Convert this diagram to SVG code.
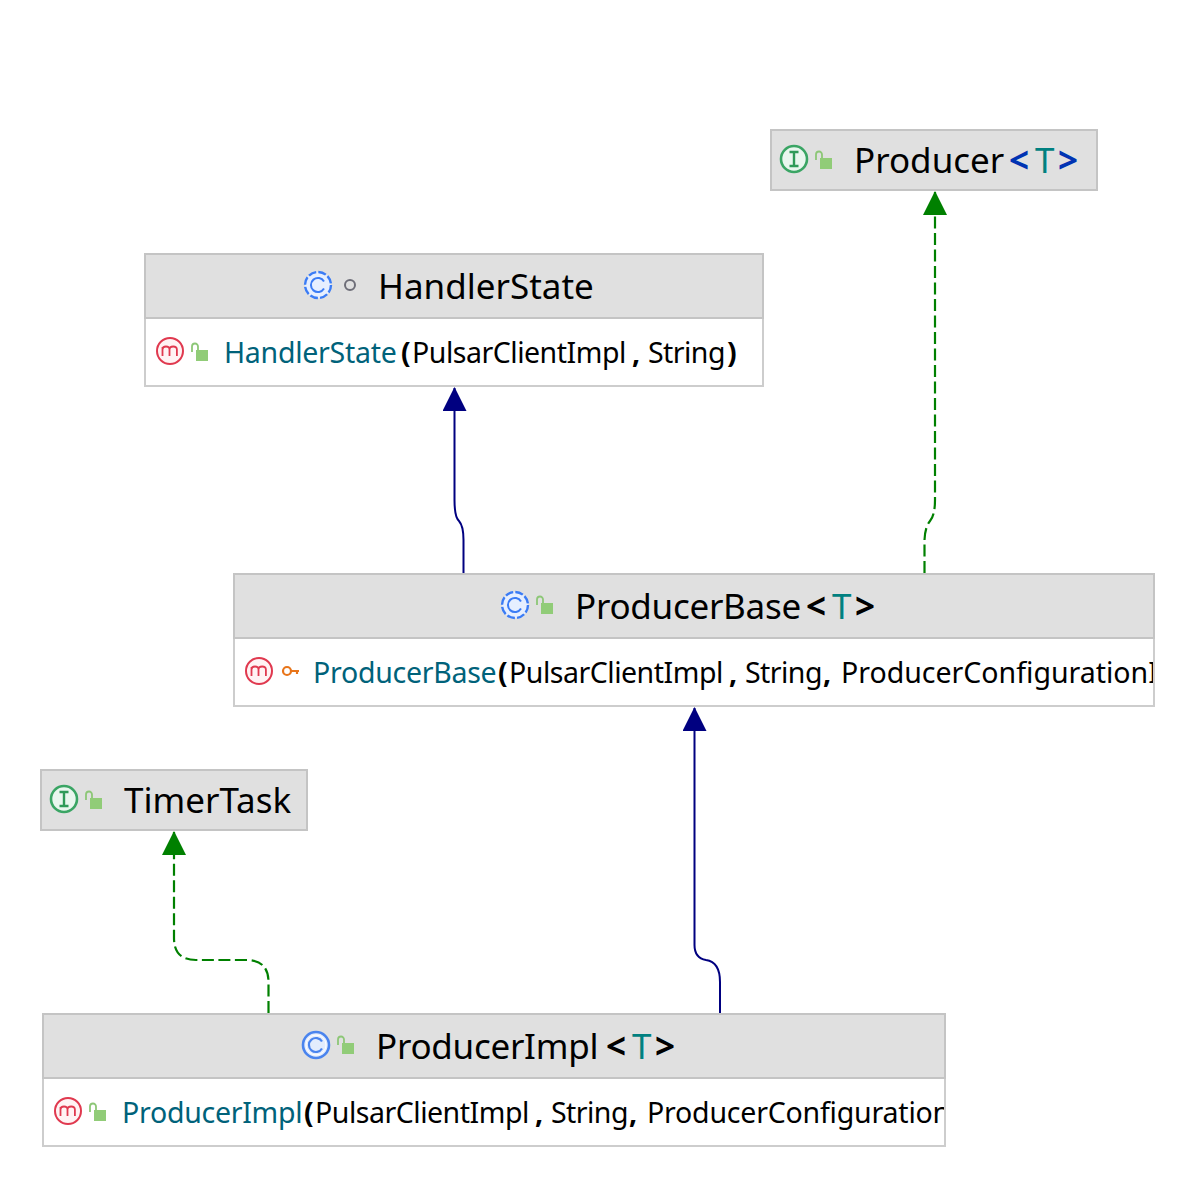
<svg xmlns="http://www.w3.org/2000/svg" width="1196" height="1188" viewBox="0 0 1196 1188">
<style>
text{font-family:"Noto Sans","Open Sans","Liberation Sans",sans-serif;white-space:pre}
.t{font-size:35px;fill:#000}
.b{font-size:28.500px;fill:#000}
.n{fill:#00627a}
.k{fill:#0033b3}
.g{fill:#008080}
.x{font-weight:bold}
.pc{letter-spacing:-.48px}
.st{letter-spacing:-.55px}
.nm{letter-spacing:-.27px}
.cf{letter-spacing:-.2px}
.box{fill:#fff;stroke:#cdcdcd;stroke-width:2}
.hd{fill:#e0e0e0;stroke:#c4c4c4;stroke-width:2}
.ext{fill:none;stroke:#000080;stroke-width:2}
.imp{fill:none;stroke:#008000;stroke-width:2.200;stroke-dasharray:12 4.500}
</style>
<defs>
<marker id="ah" markerUnits="userSpaceOnUse" markerWidth="24" markerHeight="24" refX="23" refY="12" orient="auto" viewBox="0 0 24 24"><path d="M0,0L24,12L0,24Z" fill="#000080"/></marker>
<marker id="ag" markerUnits="userSpaceOnUse" markerWidth="24" markerHeight="24" refX="23" refY="12" orient="auto" viewBox="0 0 24 24"><path d="M0,0L24,12L0,24Z" fill="#008000"/></marker>
<g id="lock"><path d="M-8,-1V-6.500a3,3 0 0 1 6,0V-3" fill="none" stroke="#8dc777" stroke-width="1.800"/><rect x="-4" y="-3" width="12" height="11" fill="#91cc78"/></g>
<g id="meth"><circle r="13" fill="#fff3f4" stroke="#e0394f" stroke-width="2"/><path d="M-7.500,5V-4M-7.500,-1.500q0,-3 3.500,-3t3.500,3V5M-0.500,-1.500q0,-3 3.700,-3t3.700,3V5" fill="none" stroke="#e0394f" stroke-width="1.800"/></g>
<g id="cdash"><circle r="13" fill="#e6efff" stroke="#3b7cf5" stroke-width="2.400" stroke-dasharray="8 2.200"/><path d="M6,-3.500A7,7 0 1 0 6,3.500" fill="none" stroke="#3b7cf5" stroke-width="2"/></g>
<g id="csol"><circle r="13" fill="#e3ecfd" stroke="#4a84ee" stroke-width="2.600"/><circle r="10" fill="none" stroke="#fff" stroke-width="1"/><path d="M6,-3.500A7,7 0 1 0 6,3.500" fill="none" stroke="#4a84ee" stroke-width="2.200"/></g>
<g id="iface"><circle r="13" fill="#e9f6ee" stroke="#3aa564" stroke-width="2.600"/><path d="M-4.500,-7H4.500M-4.500,7H4.500M0,-7V7" fill="none" stroke="#2f9a58" stroke-width="2.400"/></g>
<clipPath id="c1"><rect x="235" y="640" width="918" height="66"/></clipPath>
<clipPath id="c2"><rect x="44" y="1080" width="900" height="66"/></clipPath>
</defs>

<g id="connectors">
<path class="imp" d="M924.500,573V540Q925,527 930,521Q935,515 935,500V192" marker-end="url(#ag)"/>
<path class="ext" d="M463.500,573V540Q463.500,526 459,521Q454.500,517 454.500,500V388" marker-end="url(#ah)"/>
<path class="ext" d="M720,1013V982Q720,962 706,960Q694.500,958 694.500,945V708" marker-end="url(#ah)"/>
<path class="imp" d="M268.500,1013V982Q268.500,960 246,960H196Q174,960 174,938V832" marker-end="url(#ag)"/>
</g>

<g id="producer">
<rect class="hd" x="771" y="130" width="326" height="60"/>
<use href="#iface" x="794" y="159"/>
<use href="#lock" x="824" y="161"/>
<text class="t" y="173"><tspan x="854">Producer</tspan><tspan class="k x" x="1009">&lt;</tspan><tspan class="g" x="1035">T</tspan><tspan class="k x" x="1058">&gt;</tspan></text>
</g>

<g id="handlerstate">
<rect class="box" x="145" y="254" width="618" height="132"/>
<rect class="hd" x="145" y="254" width="618" height="64"/>
<use href="#cdash" x="318" y="285"/>
<circle cx="350" cy="285" r="5" fill="none" stroke="#6e6e78" stroke-width="2"/>
<text class="t" x="378" y="299">HandlerState</text>
<use href="#meth" x="170" y="351"/>
<use href="#lock" x="200" y="353"/>
<text class="b" y="363"><tspan class="n nm" x="224">HandlerState</tspan><tspan class="x" x="401">(</tspan><tspan class="pc" x="412">PulsarClientImpl</tspan><tspan class="x" x="632">,</tspan><tspan class="st" x="648">String</tspan><tspan class="x" x="727">)</tspan></text>
</g>

<g id="producerbase">
<rect class="box" x="234" y="574" width="920" height="132"/>
<rect class="hd" x="234" y="574" width="920" height="64"/>
<use href="#cdash" x="515" y="605"/>
<use href="#lock" x="545" y="606"/>
<text class="t" y="619"><tspan class="nm" x="575">ProducerBase</tspan><tspan class="x" x="806">&lt;</tspan><tspan class="g" x="832">T</tspan><tspan class="x" x="855">&gt;</tspan></text>
<use href="#meth" x="259" y="671"/>
<g transform="translate(291,671)"><circle cx="-4" cy="0" r="4" fill="none" stroke="#e8751a" stroke-width="2.200"/><path d="M0,0H8M6,0V3" fill="none" stroke="#e8751a" stroke-width="2.200"/></g>
<g clip-path="url(#c1)"><text class="b" y="683"><tspan class="n nm" x="313">ProducerBase</tspan><tspan class="x" x="498">(</tspan><tspan class="pc" x="509">PulsarClientImpl</tspan><tspan class="x" x="729">,</tspan><tspan class="st" x="745">String</tspan><tspan class="x" x="823">,</tspan><tspan x="841">ProducerConfigurationI</tspan></text></g>
</g>

<g id="timertask">
<rect class="hd" x="41" y="770" width="266" height="60"/>
<use href="#iface" x="64" y="799"/>
<use href="#lock" x="94" y="801"/>
<text class="t" x="124" y="813">TimerTask</text>
</g>

<g id="producerimpl">
<rect class="box" x="43" y="1014" width="902" height="132"/>
<rect class="hd" x="43" y="1014" width="902" height="64"/>
<use href="#csol" x="316" y="1045"/>
<use href="#lock" x="346" y="1046"/>
<text class="t" y="1059"><tspan class="nm" x="376">ProducerImpl</tspan><tspan class="x" x="606">&lt;</tspan><tspan class="g" x="632">T</tspan><tspan class="x" x="655">&gt;</tspan></text>
<use href="#meth" x="68" y="1111"/>
<use href="#lock" x="98" y="1113"/>
<g clip-path="url(#c2)"><text class="b" y="1123"><tspan class="n nm" x="122">ProducerImpl</tspan><tspan class="x" x="304">(</tspan><tspan class="pc" x="315">PulsarClientImpl</tspan><tspan class="x" x="535">,</tspan><tspan class="st" x="551">String</tspan><tspan class="x" x="629">,</tspan><tspan class="cf" x="647">ProducerConfiguration</tspan></text></g>
</g>
</svg>
